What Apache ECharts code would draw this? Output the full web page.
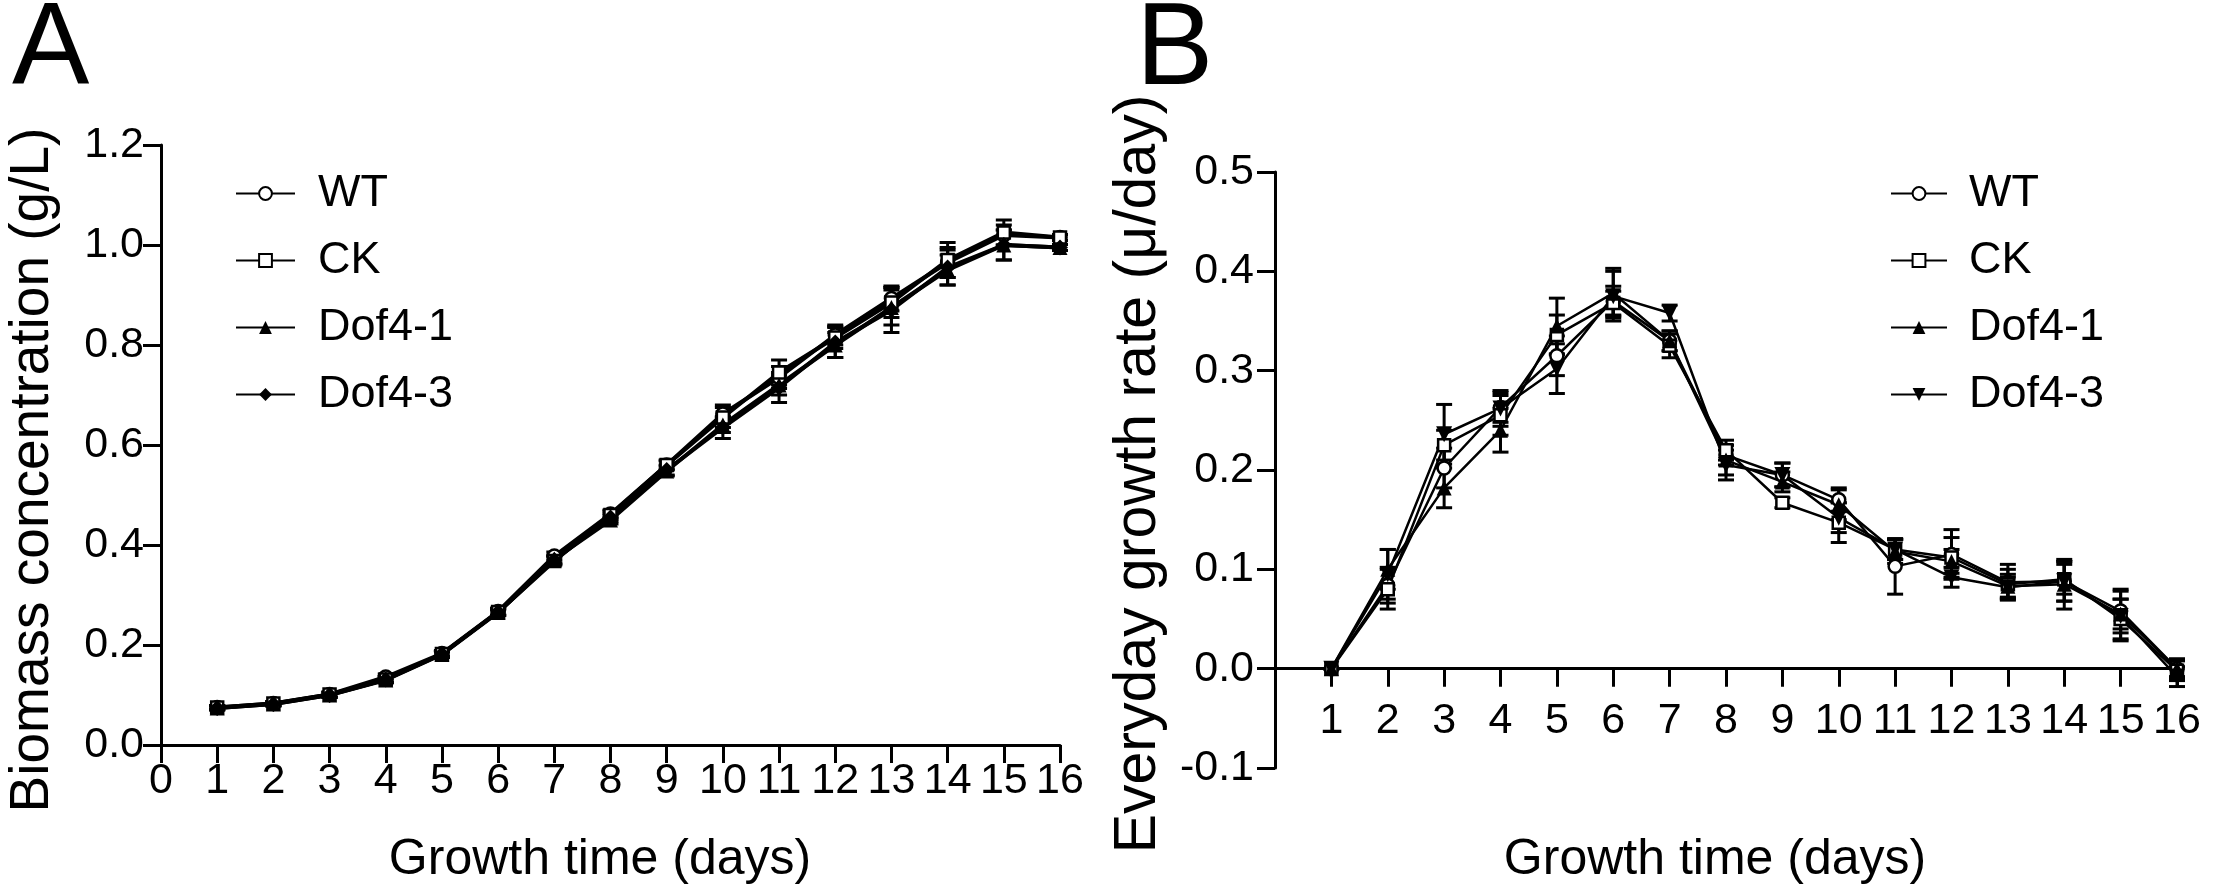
<!DOCTYPE html>
<html>
<head>
<meta charset="utf-8">
<script src="https://cdn.jsdelivr.net/npm/echarts@6/dist/echarts.min.js"></script>
<style>
  html, body { margin: 0; padding: 0; background: #fff; }
  #chart { width: 2214px; height: 893px; }
</style>
</head>
<body>
<div id="chart"></div>
<script>
// growth days
const days = [1, 2, 3, 4, 5, 6, 7, 8, 9, 10, 11, 12, 13, 14, 15, 16];
const groups = ['WT', 'CK', 'Dof4-1', 'Dof4-3'];

// A: biomass concentration (g/L)
const biomassWT   = [0.075, 0.083, 0.101, 0.136, 0.183, 0.267, 0.378, 0.462, 0.560, 0.662, 0.735, 0.820, 0.893, 0.965, 1.020, 1.015];
const biomassCK   = [0.075, 0.083, 0.101, 0.131, 0.182, 0.266, 0.368, 0.460, 0.560, 0.655, 0.745, 0.815, 0.885, 0.970, 1.025, 1.015];
const biomassDof41 = [0.074, 0.082, 0.100, 0.130, 0.181, 0.265, 0.372, 0.450, 0.548, 0.640, 0.720, 0.800, 0.875, 0.950, 1.000, 0.995];
const biomassDof43 = [0.074, 0.082, 0.100, 0.131, 0.182, 0.266, 0.370, 0.455, 0.550, 0.635, 0.715, 0.805, 0.870, 0.955, 1.000, 0.995];
const biomassErrWT   = [0.004, 0.004, 0.005, 0.006, 0.006, 0.007, 0.008, 0.008, 0.010, 0.018, 0.022, 0.020, 0.025, 0.030, 0.020, 0.006];
const biomassErrCK   = [0.004, 0.004, 0.005, 0.006, 0.006, 0.007, 0.008, 0.008, 0.008, 0.020, 0.025, 0.022, 0.030, 0.035, 0.025, 0.006];
const biomassErrDof41 = [0.004, 0.004, 0.005, 0.006, 0.006, 0.006, 0.008, 0.008, 0.010, 0.015, 0.020, 0.025, 0.035, 0.030, 0.030, 0.006];
const biomassErrDof43 = [0.004, 0.004, 0.005, 0.006, 0.006, 0.006, 0.008, 0.008, 0.010, 0.022, 0.030, 0.030, 0.045, 0.035, 0.030, 0.006];

// B: everyday growth rate (u/day)
const rateWT   = [0, 0.084, 0.202, 0.263, 0.315, 0.370, 0.330, 0.215, 0.195, 0.170, 0.103, 0.115, 0.087, 0.088, 0.058, 0.000];
const rateCK   = [0, 0.080, 0.225, 0.255, 0.336, 0.368, 0.325, 0.220, 0.167, 0.147, 0.120, 0.112, 0.085, 0.090, 0.050, -0.002];
const rateDof41 = [0, 0.100, 0.182, 0.240, 0.345, 0.378, 0.330, 0.210, 0.188, 0.165, 0.118, 0.108, 0.083, 0.085, 0.055, 0.000];
const rateDof43 = [0, 0.095, 0.236, 0.262, 0.302, 0.375, 0.358, 0.205, 0.195, 0.152, 0.120, 0.092, 0.082, 0.088, 0.053, -0.008];
const rateErrWT   = [0, 0.018, 0.020, 0.015, 0.020, 0.015, 0.010, 0.010, 0.012, 0.012, 0.028, 0.025, 0.018, 0.020, 0.022, 0.008];
const rateErrCK   = [0, 0.020, 0.015, 0.020, 0.020, 0.012, 0.012, 0.010, 0.005, 0.020, 0.010, 0.020, 0.015, 0.015, 0.020, 0.010];
const rateErrDof41 = [0, 0.020, 0.020, 0.022, 0.028, 0.025, 0.010, 0.015, 0.010, 0.015, 0.012, 0.012, 0.012, 0.025, 0.015, 0.010];
const rateErrDof43 = [0, 0.025, 0.030, 0.018, 0.025, 0.025, 0.008, 0.015, 0.012, 0.015, 0.010, 0.010, 0.010, 0.020, 0.025, 0.010];

const FONT = 'Liberation Sans, Arial, Helvetica, sans-serif';

const markers = {
    'WT': {symbol: 'circle', symbolSize: 13, open: true},
    'CK': {symbol: 'rect', symbolSize: 12, open: true},
    'Dof4-1': {symbol: 'triangle', symbolSize: 15, open: false},
    'Dof4-3': {symbol: 'diamond', symbolSize: 16, open: false}
};

function pairs(ys) {
    return days.map((d, i) => [d, ys[i]]);
}

function errPairs(ys, errs) {
    return days.map((d, i) => [d, ys[i] - errs[i], ys[i] + errs[i]]);
}

function errorBarItem(params, api) {
    const x = api.value(0);
    const hi = api.coord([x, api.value(2)]);
    const lo = api.coord([x, api.value(1)]);
    const half = 8;
    const style = {stroke: '#000', lineWidth: 3};
    return {
        type: 'group',
        children: [
            {type: 'line', shape: {x1: hi[0], y1: hi[1], x2: lo[0], y2: lo[1]}, style: style},
            {type: 'line', shape: {x1: hi[0] - half, y1: hi[1], x2: hi[0] + half, y2: hi[1]}, style: style},
            {type: 'line', shape: {x1: lo[0] - half, y1: lo[1], x2: lo[0] + half, y2: lo[1]}, style: style}
        ]
    };
}

function lineSeries(panel, name, ys, idx, lineWidth, overrideSymbol, rotate) {
    const m = markers[name];
    return {
        name: name + '|' + panel,
        type: 'line',
        xAxisIndex: idx,
        yAxisIndex: idx,
        data: pairs(ys),
        symbol: overrideSymbol || m.symbol,
        symbolRotate: rotate || 0,
        symbolSize: m.symbolSize,
        showAllSymbol: true,
        z: 3,
        lineStyle: {color: '#000', width: lineWidth},
        itemStyle: m.open
            ? {color: '#fff', borderColor: '#000', borderWidth: 2.5}
            : {color: '#000', borderColor: '#000', borderWidth: 0},
        emphasis: {disabled: true}
    };
}

function errSeries(ys, errs, idx) {
    return {
        type: 'custom',
        xAxisIndex: idx,
        yAxisIndex: idx,
        data: errPairs(ys, errs),
        encode: {x: 0, y: [1, 2]},
        renderItem: errorBarItem,
        z: 2,
        silent: true
    };
}

const axisLine = {show: true, onZero: true, lineStyle: {color: '#000', width: 3}};
const axisTick = {show: true, inside: false, length: 18, lineStyle: {color: '#000', width: 3}};
const labelBase = {color: '#000', fontSize: 43, fontFamily: FONT};

const legendBase = {
    orient: 'vertical',
    itemHeight: 16,
    itemGap: 22,
    top: 166,
    selectedMode: false,
    formatter: name => name.split('|')[0]
};

const option = {
    backgroundColor: '#fff',
    animation: false,
    grid: [
        {left: 161, top: 145, width: 899, height: 600, containLabel: false},
        {left: 1275, top: 172, width: 902, height: 596, containLabel: false}
    ],
    xAxis: [
        {
            gridIndex: 0, type: 'value', min: 0, max: 16, interval: 1,
            axisLine: axisLine, axisTick: axisTick, splitLine: {show: false},
            axisLabel: Object.assign({margin: 15, showMinLabel: true, showMaxLabel: true}, labelBase)
        },
        {
            // labels sit just under the zero line, not at the grid bottom
            gridIndex: 1, type: 'value', min: 0, max: 16, interval: 1,
            axisLine: axisLine, axisTick: axisTick, splitLine: {show: false},
            axisLabel: Object.assign({margin: -68, showMaxLabel: true,
                formatter: v => (v === 0 ? '' : String(v))}, labelBase)
        }
    ],
    yAxis: [
        {
            gridIndex: 0, type: 'value', min: 0, max: 1.2, interval: 0.2,
            axisLine: axisLine, axisTick: axisTick, splitLine: {show: false},
            axisLabel: Object.assign({margin: 17, formatter: v => v.toFixed(1)}, labelBase)
        },
        {
            gridIndex: 1, type: 'value', min: -0.1, max: 0.5, interval: 0.1,
            axisLine: axisLine, axisTick: axisTick, splitLine: {show: false},
            axisLabel: Object.assign({margin: 21, formatter: v => v.toFixed(1)}, labelBase)
        }
    ],
    legend: [
        Object.assign({left: 230, itemWidth: 59, data: groups.map(g => g + '|A'),
            textStyle: {color: '#000', fontSize: 45, lineHeight: 45, fontFamily: FONT, padding: [0, 0, 0, 18]}}, legendBase),
        Object.assign({left: 1885, itemWidth: 56, data: groups.map(g => g + '|B'),
            textStyle: {color: '#000', fontSize: 45, lineHeight: 45, fontFamily: FONT, padding: [0, 0, 0, 17]}}, legendBase)
    ],
    series: [
        errSeries(biomassWT, biomassErrWT, 0),
        errSeries(biomassCK, biomassErrCK, 0),
        errSeries(biomassDof41, biomassErrDof41, 0),
        errSeries(biomassDof43, biomassErrDof43, 0),
        lineSeries('A', 'WT', biomassWT, 0, 4),
        lineSeries('A', 'CK', biomassCK, 0, 4),
        lineSeries('A', 'Dof4-1', biomassDof41, 0, 4),
        lineSeries('A', 'Dof4-3', biomassDof43, 0, 4),

        errSeries(rateWT, rateErrWT, 1),
        errSeries(rateCK, rateErrCK, 1),
        errSeries(rateDof41, rateErrDof41, 1),
        errSeries(rateDof43, rateErrDof43, 1),
        lineSeries('B', 'WT', rateWT, 1, 2.5),
        lineSeries('B', 'CK', rateCK, 1, 2.5),
        lineSeries('B', 'Dof4-1', rateDof41, 1, 2.5),
        lineSeries('B', 'Dof4-3', rateDof43, 1, 2.5, 'triangle', 180)
    ],
    graphic: [
        {type: 'text', x: 12, y: 52, style: {text: 'A', fontSize: 116, fontFamily: FONT, fill: '#000', align: 'left', verticalAlign: 'middle'}},
        {type: 'text', x: 1136, y: 52, style: {text: 'B', fontSize: 116, fontFamily: FONT, fill: '#000', align: 'left', verticalAlign: 'middle'}},
        {type: 'text', x: 33, y: 470, rotation: Math.PI / 2,
            style: {text: 'Biomass concentration (g/L)', fontSize: 55, fontFamily: FONT, fill: '#000', align: 'center', verticalAlign: 'middle'}},
        {type: 'text', x: 1139, y: 474, rotation: Math.PI / 2,
            style: {text: 'Everyday growth rate (μ/day)', fontSize: 59, fontFamily: FONT, fill: '#000', align: 'center', verticalAlign: 'middle'}},
        {type: 'text', x: 600, y: 860,
            style: {text: 'Growth time (days)', fontSize: 50, fontFamily: FONT, fill: '#000', align: 'center', verticalAlign: 'middle'}},
        {type: 'text', x: 1715, y: 860,
            style: {text: 'Growth time (days)', fontSize: 50, fontFamily: FONT, fill: '#000', align: 'center', verticalAlign: 'middle'}}
    ]
};

const myChart = echarts.init(document.getElementById('chart'), null, {renderer: 'canvas'});
myChart.setOption(option);
</script>
</body>
</html>
